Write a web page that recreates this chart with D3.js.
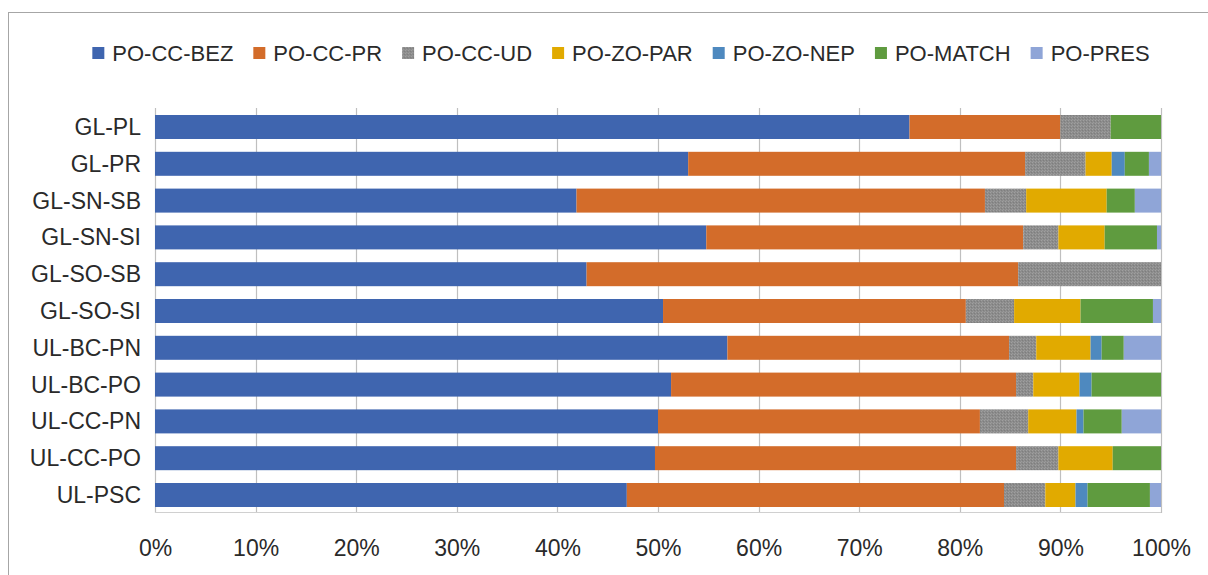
<!DOCTYPE html>
<html>
<head>
<meta charset="utf-8">
<script src="https://cdn.jsdelivr.net/npm/d3@7"></script>
<style>
  html, body { margin: 0; padding: 0; background: #fff; }
  svg { display: block; }
  text { font-family: "Liberation Sans", Arial, sans-serif; fill: #2a2a2a; }
</style>
</head>
<body>
<svg id="chart" width="1208" height="575"></svg>
<script>
const categories = ["GL-PL","GL-PR","GL-SN-SB","GL-SN-SI","GL-SO-SB","GL-SO-SI","UL-BC-PN","UL-BC-PO","UL-CC-PN","UL-CC-PO","UL-PSC"];
const seriesNames = ["PO-CC-BEZ","PO-CC-PR","PO-CC-UD","PO-ZO-PAR","PO-ZO-NEP","PO-MATCH","PO-PRES"];
const PO_CC_BEZ = [75.0, 53.0, 41.9, 54.8, 42.9, 50.5, 56.9, 51.3, 50.0, 49.7, 46.9];
const PO_CC_PR  = [15.0, 33.5, 40.6, 31.5, 42.9, 30.1, 28.0, 34.3, 32.0, 35.9, 37.5];
const PO_CC_UD  = [ 5.0,  6.0,  4.1,  3.5, 14.2,  4.8,  2.7,  1.7,  4.8,  4.2,  4.1];
const PO_ZO_PAR = [ 0.0,  2.6,  8.0,  4.6,  0.0,  6.6,  5.4,  4.6,  4.8,  5.4,  3.0];
const PO_ZO_NEP = [ 0.0,  1.3,  0.0,  0.0,  0.0,  0.0,  1.1,  1.2,  0.7,  0.0,  1.2];
const PO_MATCH  = [ 5.0,  2.4,  2.8,  5.2,  0.0,  7.2,  2.2,  6.9,  3.8,  4.8,  6.2];
const PO_PRES   = [ 0.0,  1.2,  2.6,  0.4,  0.0,  0.8,  3.7,  0.0,  3.9,  0.0,  1.1];
const xTicks = [0,0.1,0.2,0.3,0.4,0.5,0.6,0.7,0.8,0.9,1.0];
const colors = ["#3F65AF","#D36C2A","#8E8E8E","#E1AA00","#4E89BF","#5F9B3F","#8FA5D7"];

const seriesValues = [PO_CC_BEZ, PO_CC_PR, PO_CC_UD, PO_ZO_PAR, PO_ZO_NEP, PO_MATCH, PO_PRES];
const table = categories.map((c, i) => {
  const row = { cat: c };
  seriesNames.forEach((s, j) => row[s] = seriesValues[j][i]);
  return row;
});

const svg = d3.select("#chart");

// pattern for gray series (dithered look)
const defs = svg.append("defs");
const pat = defs.append("pattern").attr("id","grayPat").attr("patternUnits","userSpaceOnUse")
  .attr("width",3).attr("height",3);
pat.append("rect").attr("width",3).attr("height",3).attr("fill","#8C8C8C");
pat.append("rect").attr("x",0).attr("y",0).attr("width",1).attr("height",1).attr("fill","#A0A0A0");
pat.append("rect").attr("x",2).attr("y",1).attr("width",1).attr("height",1).attr("fill","#7E7E7E");
pat.append("rect").attr("x",1).attr("y",2).attr("width",1).attr("height",1).attr("fill","#9A9A9A");
const fillFor = i => i === 2 ? "url(#grayPat)" : colors[i];

// chart frame
svg.append("rect").attr("x",8.5).attr("y",12.5).attr("width",1220).attr("height",600)
  .attr("fill","none").attr("stroke","#A6A6A6").attr("stroke-width",1);

const x = d3.scaleLinear().domain([0,1]).range([155, 1161]);
const y = d3.scaleBand().domain(categories).range([108.6, 513.4]).paddingInner(0.348).paddingOuter(0.174);

// gridlines
svg.append("g").selectAll("line").data(xTicks).join("line")
  .attr("x1", d => Math.round(x(d)) + 0.5).attr("x2", d => Math.round(x(d)) + 0.5)
  .attr("y1", 108).attr("y2", 513)
  .attr("stroke", "#BFBFBF").attr("stroke-width", 1.2);
svg.append("line").attr("x1", x(0)).attr("x2", x(1)).attr("y1", 512.5).attr("y2", 512.5)
  .attr("stroke","#D0D0D0").attr("stroke-width",1);

// stacked bars
const stack = d3.stack().keys(seriesNames).offset(d3.stackOffsetExpand);
const stacked = stack(table);
svg.append("g").selectAll("g").data(stacked).join("g")
  .attr("fill", (d, i) => fillFor(i))
  .selectAll("rect").data(d => d).join("rect")
  .attr("x", d => x(d[0]))
  .attr("width", d => Math.max(0, x(d[1]) - x(d[0])))
  .attr("y", d => y(d.data.cat))
  .attr("height", y.bandwidth());

// category axis labels
svg.append("g").selectAll("text").data(categories).join("text")
  .attr("x", 141).attr("y", d => y(d) + y.bandwidth()/2)
  .attr("text-anchor","end").attr("dominant-baseline","central")
  .attr("font-size", 23).text(d => d);

// x axis labels
const xAxis = d3.axisBottom(x).tickValues(xTicks).tickFormat(d3.format(".0%")).tickSize(0).tickPadding(0);
const xg = svg.append("g").attr("transform","translate(0,540)").call(xAxis);
xg.select(".domain").remove();
xg.selectAll("text").attr("font-size", 23).attr("font-family", "Liberation Sans, Arial, sans-serif").attr("fill","#2a2a2a");

// legend
const lg = svg.append("g");
const items = lg.selectAll("g").data(seriesNames).join("g");
items.append("rect").attr("width", 12).attr("height", 12).attr("y", -6)
  .attr("fill", (d, i) => fillFor(i));
items.append("text").attr("x", 20).attr("dominant-baseline","central")
  .attr("font-size", 22).text(d => d);
let cx = 0;
const gap = 20;
items.each(function() {
  const w = d3.select(this).select("text").node().getComputedTextLength();
  d3.select(this).attr("transform", `translate(${cx},0)`);
  cx += 20 + w + gap;
});
const total = cx - gap;
lg.attr("transform", `translate(${621 - total/2},53)`);
</script>
</body>
</html>
